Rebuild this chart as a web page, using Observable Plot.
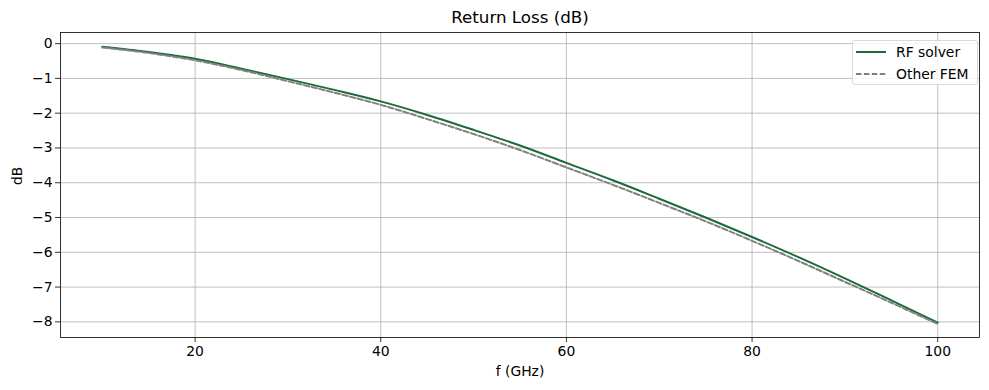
<!DOCTYPE html>
<html>
<head>
<meta charset="utf-8">
<script src="https://cdn.jsdelivr.net/npm/d3@7"></script>
<script src="https://cdn.jsdelivr.net/npm/@observablehq/plot@0.6"></script>
<style>
  html, body { margin: 0; padding: 0; background: white; }
  #wrap { position: relative; width: 989px; height: 390px; font-family: "DejaVu Sans", sans-serif; }
  #legend { position: absolute; left: 852px; top: 40px; width: 124px; height: 43px;
    border: 1px solid #d9d9d9; border-radius: 3px; background: rgba(255,255,255,0.8);
    font-size: 13.9px; color: #000; }
  .row { position: absolute; left: 0; height: 20px; display: flex; align-items: center; }
  .row svg { margin-left: 3px; }
  .row span { margin-left: 10px; white-space: nowrap; }
</style>
</head>
<body>
<div id="wrap"></div>
<script>
const freq = [10, 15, 20, 25, 30, 35, 40, 45, 50, 55, 60, 65, 70, 75, 80, 85, 90, 95, 100];
const rfSolver = [-0.09, -0.24, -0.435, -0.72, -1.02, -1.33, -1.66, -2.05, -2.48, -2.93, -3.43, -3.93, -4.46, -5.0, -5.56, -6.14, -6.75, -7.38, -8.02];
const otherFem = [-0.11, -0.27, -0.48, -0.76, -1.08, -1.41, -1.76, -2.17, -2.60, -3.06, -3.56, -4.06, -4.58, -5.11, -5.67, -6.25, -6.85, -7.45, -8.06];
const xTicks = [20, 40, 60, 80, 100];
const yTicks = [0, -1, -2, -3, -4, -5, -6, -7, -8];
const seriesNames = ["RF solver", "Other FEM"];
const seriesColors = ["#1b6b3a", "#808080"];

const rows = freq.map((f, i) => ({f, rf: rfSolver[i], fem: otherFem[i]}));

const chart = Plot.plot({
  width: 989,
  height: 390,
  marginLeft: 60,
  marginRight: 10,
  marginTop: 32,
  marginBottom: 53,
  style: {fontFamily: "DejaVu Sans, sans-serif", fontSize: "13.9px", background: "white", color: "black"},
  x: {domain: [5.5, 104.5]},
  y: {domain: [-8.45, 0.32]},
  marks: [
    Plot.gridX(xTicks, {stroke: "#b0b0b0", strokeOpacity: 1, strokeWidth: 0.8}),
    Plot.gridY(yTicks, {stroke: "#b0b0b0", strokeOpacity: 1, strokeWidth: 0.8}),
    Plot.line(rows, {x: "f", y: "rf", stroke: seriesColors[0], strokeWidth: 2, curve: "monotone-x"}),
    Plot.line(rows, {x: "f", y: "fem", stroke: seriesColors[1], strokeWidth: 2, strokeDasharray: "5.5,2.4", curve: "monotone-x"}),
    Plot.frame({stroke: "black", strokeWidth: 0.8}),
    Plot.axisX(xTicks, {label: null, tickSize: 5, tickPadding: 4, strokeWidth: 0.8, fontSize: 13.9}),
    Plot.axisY(yTicks, {label: null, tickSize: 5, tickPadding: 3, strokeWidth: 0.8, fontSize: 13.9}),
    Plot.text(["f (GHz)"], {frameAnchor: "bottom", dy: 34, lineAnchor: "middle", fontSize: 13.9}),
    Plot.text(["dB"], {frameAnchor: "left", dx: -43, rotate: -90, lineAnchor: "middle", fontSize: 13.9}),
    Plot.text(["Return Loss (dB)"], {frameAnchor: "top", dy: -15, lineAnchor: "middle", fontSize: 16.7})
  ]
});

const wrap = document.getElementById("wrap");
wrap.appendChild(chart);

const legend = document.createElement("div");
legend.id = "legend";
seriesNames.forEach((name, i) => {
  const row = document.createElement("div");
  row.className = "row";
  row.style.top = (1 + i * 22) + "px";
  const dash = i === 1 ? 'stroke-dasharray="5.5,2.4"' : "";
  row.innerHTML = `<svg width="30" height="6"><line x1="0" x2="30" y1="3" y2="3" stroke="${seriesColors[i]}" stroke-width="2" ${dash}/></svg><span>${name}</span>`;
  legend.appendChild(row);
});
wrap.appendChild(legend);
</script>
</body>
</html>
